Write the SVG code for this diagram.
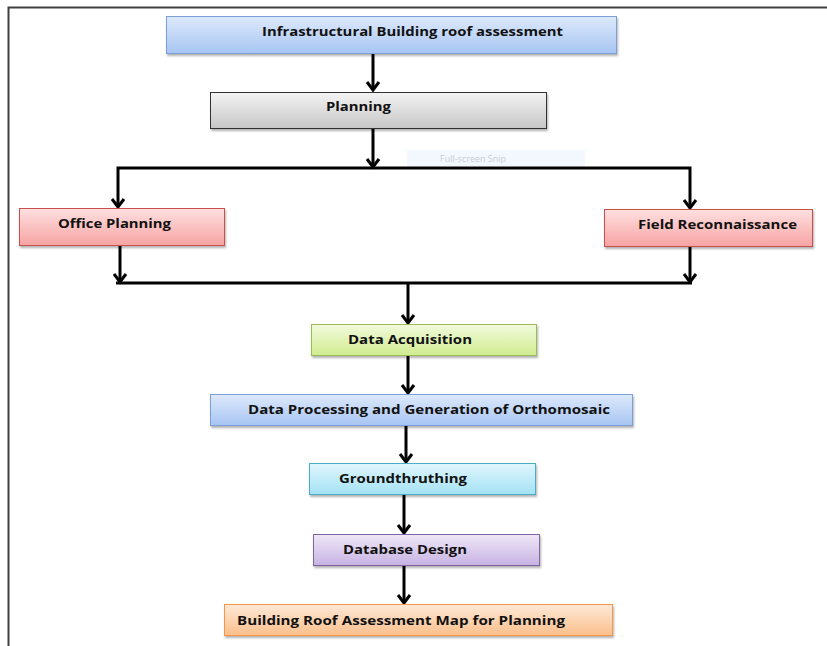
<svg xmlns="http://www.w3.org/2000/svg" width="827" height="646" viewBox="0 0 827 646">
<style>
.t{font-family:"Open Sans","Liberation Sans",sans-serif;font-weight:bold;font-size:13px;fill:#111}
.c{fill:none;stroke:#000;stroke-width:3}
.box{stroke-width:1}
</style>
<defs>
<filter id="sh" x="-5%" y="-20%" width="110%" height="150%"><feDropShadow dx="1" dy="2" stdDeviation="1" flood-color="#000" flood-opacity="0.3"/></filter>
<marker id="ah" markerUnits="userSpaceOnUse" markerWidth="13" markerHeight="16" refX="10" refY="8" orient="auto-start-reverse" viewBox="0 0 13 16">
<polyline points="2,2 10,8 2,14" fill="none" stroke="#000" stroke-width="3"/>
</marker>
<linearGradient id="gBlue" x1="0" y1="0" x2="0" y2="1"><stop offset="0" stop-color="#dde9fb"/><stop offset="1" stop-color="#a7c5f3"/></linearGradient>
<linearGradient id="gGray" x1="0" y1="0" x2="0" y2="1"><stop offset="0" stop-color="#f4f4f4"/><stop offset="1" stop-color="#c6c6c6"/></linearGradient>
<linearGradient id="gRed" x1="0" y1="0" x2="0" y2="1"><stop offset="0" stop-color="#ffe0e0"/><stop offset="1" stop-color="#f7a3a3"/></linearGradient>
<linearGradient id="gGreen" x1="0" y1="0" x2="0" y2="1"><stop offset="0" stop-color="#f2fadc"/><stop offset="1" stop-color="#d0ec8f"/></linearGradient>
<linearGradient id="gCyan" x1="0" y1="0" x2="0" y2="1"><stop offset="0" stop-color="#e0f6fd"/><stop offset="1" stop-color="#a4e2f5"/></linearGradient>
<linearGradient id="gPurple" x1="0" y1="0" x2="0" y2="1"><stop offset="0" stop-color="#efe8f7"/><stop offset="1" stop-color="#c8b2e3"/></linearGradient>
<linearGradient id="gOrange" x1="0" y1="0" x2="0" y2="1"><stop offset="0" stop-color="#fee9d7"/><stop offset="1" stop-color="#fbbf8b"/></linearGradient>
</defs>
<rect width="827" height="646" fill="#fff"/>
<g id="frame">
<path d="M8.5,646 V7.5 H827" fill="none" stroke="#404040" stroke-width="2"/>
</g>
<g id="snip">
<rect x="407" y="150" width="178" height="16" fill="#f3f8fe"/>
<text x="440" y="162" font-family="'Open Sans','Liberation Sans',sans-serif" font-size="9" fill="#c8ccd2">Full-screen Snip</text>
</g>
<g id="connectors">
<line class="c" x1="373" y1="53" x2="373" y2="90" marker-end="url(#ah)"/>
<line class="c" x1="373" y1="128" x2="373" y2="167" marker-end="url(#ah)"/>
<polyline class="c" points="118,207 118,168 690,168 690,208" marker-start="url(#ah)" marker-end="url(#ah)"/>
<line class="c" x1="120" y1="245" x2="120" y2="282" marker-end="url(#ah)"/>
<line class="c" x1="690" y1="246" x2="690" y2="282" marker-end="url(#ah)"/>
<line class="c" x1="116" y1="283" x2="692" y2="283"/>
<line class="c" x1="408" y1="283" x2="408" y2="323" marker-end="url(#ah)"/>
<line class="c" x1="408" y1="355" x2="408" y2="393" marker-end="url(#ah)"/>
<line class="c" x1="406" y1="425" x2="406" y2="462" marker-end="url(#ah)"/>
<line class="c" x1="404" y1="494" x2="404" y2="533" marker-end="url(#ah)"/>
<line class="c" x1="404" y1="565" x2="404" y2="603" marker-end="url(#ah)"/>
</g>
<g id="n1"><rect class="box" x="166.5" y="16.5" width="450" height="37" fill="url(#gBlue)" stroke="#7c9fd6" filter="url(#sh)"/><text class="t" x="262" y="36" textLength="301" lengthAdjust="spacingAndGlyphs">Infrastructural Building roof assessment</text></g>
<g id="n2"><rect class="box" x="210.5" y="92.5" width="336" height="36" fill="url(#gGray)" stroke="#333" filter="url(#sh)"/><text class="t" x="326" y="111" textLength="65" lengthAdjust="spacingAndGlyphs">Planning</text></g>
<g id="n3"><rect class="box" x="19.5" y="208.5" width="205" height="37" fill="url(#gRed)" stroke="#c9504d" filter="url(#sh)"/><text class="t" x="58" y="228" textLength="113" lengthAdjust="spacingAndGlyphs">Office Planning</text></g>
<g id="n4"><rect class="box" x="604.5" y="209.5" width="208" height="37" fill="url(#gRed)" stroke="#c9504d" filter="url(#sh)"/><text class="t" x="638" y="229" textLength="159" lengthAdjust="spacingAndGlyphs">Field Reconnaissance</text></g>
<g id="n5"><rect class="box" x="311.5" y="324.5" width="225" height="31" fill="url(#gGreen)" stroke="#9bbb59" filter="url(#sh)"/><text class="t" x="348" y="344" textLength="124" lengthAdjust="spacingAndGlyphs">Data Acquisition</text></g>
<g id="n6"><rect class="box" x="210.5" y="394.5" width="422" height="31" fill="url(#gBlue)" stroke="#7c9fd6" filter="url(#sh)"/><text class="t" x="248" y="414" textLength="362" lengthAdjust="spacingAndGlyphs">Data Processing and Generation of Orthomosaic</text></g>
<g id="n7"><rect class="box" x="309.5" y="463.5" width="226" height="31" fill="url(#gCyan)" stroke="#4bacc6" filter="url(#sh)"/><text class="t" x="339" y="483" textLength="128" lengthAdjust="spacingAndGlyphs">Groundthruthing</text></g>
<g id="n8"><rect class="box" x="313.5" y="534.5" width="226" height="31" fill="url(#gPurple)" stroke="#8064a2" filter="url(#sh)"/><text class="t" x="343" y="554" textLength="124" lengthAdjust="spacingAndGlyphs">Database Design</text></g>
<g id="n9"><rect class="box" x="224.5" y="604.5" width="388" height="31" fill="url(#gOrange)" stroke="#f79646" filter="url(#sh)"/><text class="t" x="237" y="625" textLength="328" lengthAdjust="spacingAndGlyphs">Building Roof Assessment Map for Planning</text></g>
</svg>
